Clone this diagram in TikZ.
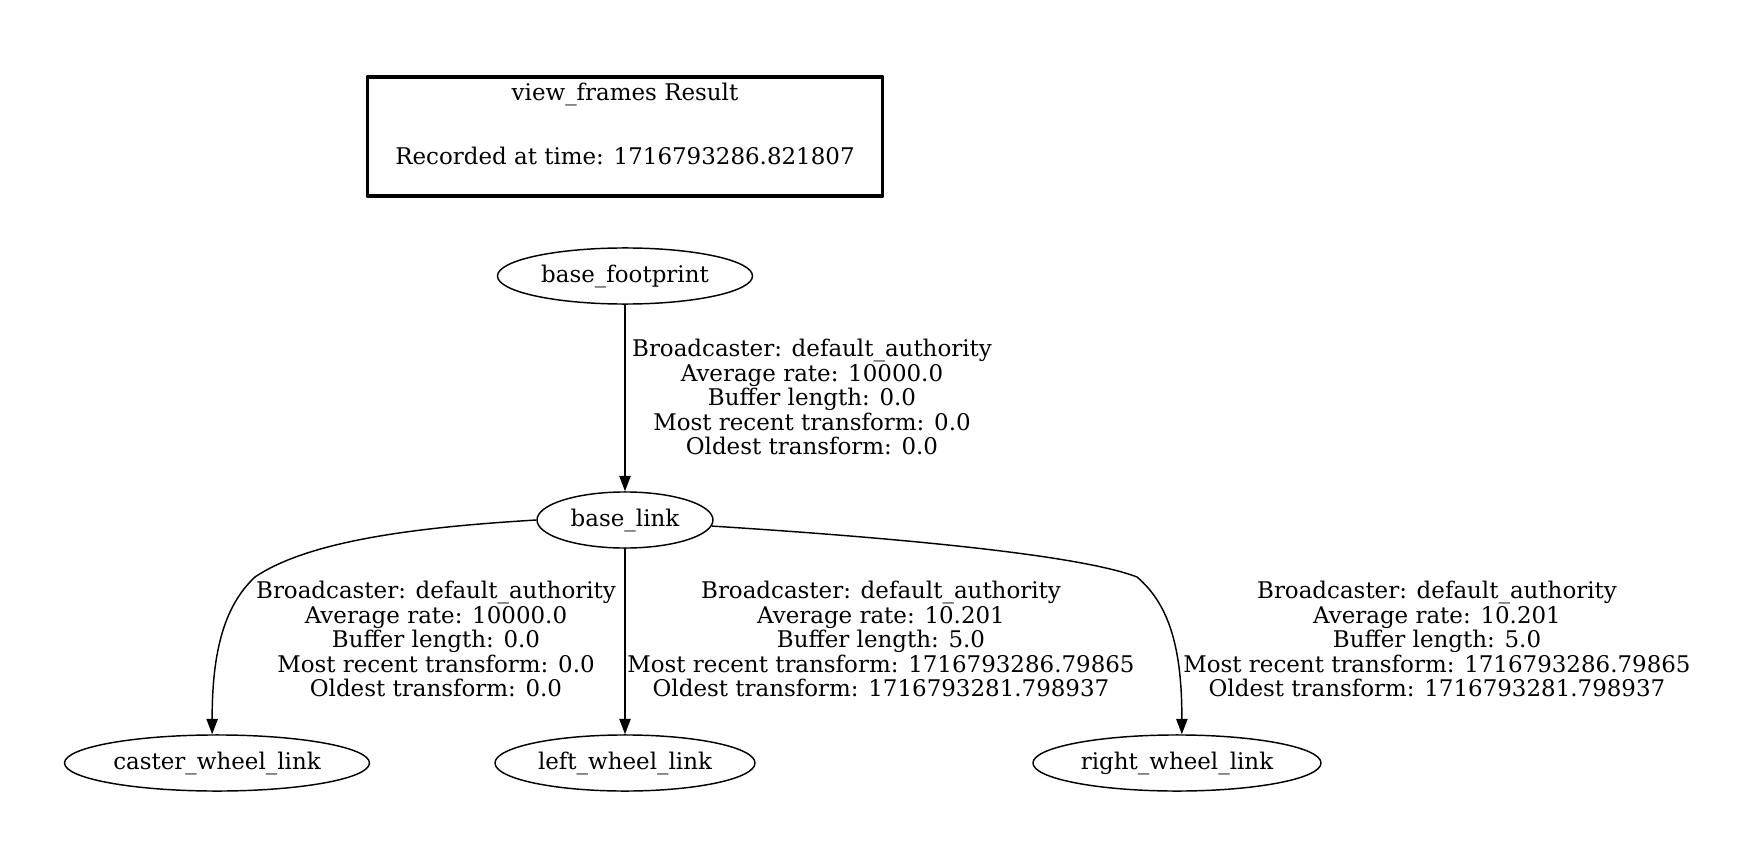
\documentclass[tikz,border=0pt]{standalone}
\usepackage{fontspec}
\setmainfont{DejaVu Serif}
\usetikzlibrary{arrows.meta,shapes.geometric}
\newcommand{\tflabel}[1]{\makebox[0pt]{#1}}

\begin{document}
\begin{tikzpicture}[x=0.6207pt,y=-0.6207pt,>={Triangle[length=9.5pt,width=7pt]},line join=round,
	font=\fontsize{14.25}{15.2}\selectfont,
	frame/.style={draw,ellipse,line width=0.9pt,inner sep=0pt,minimum height=34.8pt},
	tfedge/.style={->,line width=0.9pt},
	info/.style={align=center,inner sep=0pt}]
	\useasboundingbox (0,0) rectangle (1746,856);
	\node[draw,line width=2pt,minimum width=320pt,minimum height=73.9pt] (result) at (625,136.5) {};
	\node (result_title) at (625,94) {view\_frames Result};
	\node (result_time) at (625,156) {Recorded at time: 1716793286.821807};
	\node[frame,minimum width=158.3pt] (base_footprint) at (625,276) {\tflabel{base\_footprint}};
	\node[frame,minimum width=109.2pt] (base_link) at (625,520) {\tflabel{base\_link}};
	\node[frame,minimum width=189.3pt] (caster) at (217,763) {\tflabel{caster\_wheel\_link}};
	\node[frame,minimum width=161.4pt] (left_wheel) at (625,763) {\tflabel{left\_wheel\_link}};
	\node[frame,minimum width=178.8pt] (right_wheel) at (1177,763) {\tflabel{right\_wheel\_link}};
	\coordinate (caster_bend) at (255,577);
	\coordinate (right_bend) at (1137,577);
	\draw[tfedge] (base_footprint) -- (base_link);
	\draw[tfedge] (base_link) -- (left_wheel);
	\draw[tfedge] (base_link.west) .. controls (420,527) and (310,540) .. (caster_bend)
		.. controls (225,605) and (212,650) .. ([xshift=-3pt]caster.north);
	\draw[tfedge] (base_link.-4) .. controls (900,538) and (1080,555) .. (right_bend)
		.. controls (1170,605) and (1182,650) .. ([xshift=3pt]right_wheel.north);
	\node[info] (info_footprint) at (812,397) {Broadcaster: default\_authority\\Average rate: 10000.0\\Buffer length: 0.0\\Most recent transform: 0.0\\Oldest transform: 0.0};
	\node[info] (info_caster) at (436,639) {Broadcaster: default\_authority\\Average rate: 10000.0\\Buffer length: 0.0\\Most recent transform: 0.0\\Oldest transform: 0.0};
	\node[info] (info_left) at (881,639) {Broadcaster: default\_authority\\Average rate: 10.201\\Buffer length: 5.0\\Most recent transform: 1716793286.79865\\Oldest transform: 1716793281.798937};
	\node[info] (info_right) at (1437,639) {Broadcaster: default\_authority\\Average rate: 10.201\\Buffer length: 5.0\\Most recent transform: 1716793286.79865\\Oldest transform: 1716793281.798937};
\end{tikzpicture}
\end{document}
